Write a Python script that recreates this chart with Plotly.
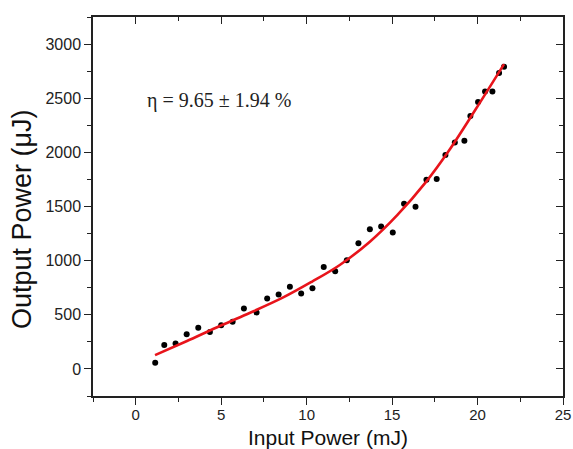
import plotly.graph_objects as go

# measured data (input power in mJ, output power in µJ)
input_mj = [1.14, 1.67, 2.33, 2.98, 3.66, 4.34, 5.0, 5.67, 6.33, 7.07, 7.69, 8.36,
            9.02, 9.68, 10.34, 11.0, 11.67, 12.35, 13.03, 13.70, 14.36, 15.04,
            15.70, 16.37, 17.01, 17.61, 18.12, 18.67, 19.23, 19.58, 20.03, 20.44,
            20.87, 21.26, 21.55]
output_uj = [56, 222, 234, 321, 380, 342, 404, 435, 558, 521, 651, 688,
             759, 697, 744, 942, 901, 1003, 1160, 1290, 1315, 1259,
             1525, 1497, 1747, 1753, 1975, 2090, 2108, 2336, 2466, 2562,
             2562, 2734, 2790]

# fitted curve
fit_x = [1.13, 3.0, 4.73, 6.5, 8.63, 10.3, 11.94, 13.7, 15.3, 17.0, 18.3, 19.9, 21.55]
fit_y = [127, 258, 383, 505, 660, 805, 960, 1175, 1420, 1730, 2010, 2400, 2815]

x_ticks = [0, 5, 10, 15, 20, 25]
y_ticks = [0, 500, 1000, 1500, 2000, 2500, 3000]
x_range = [-2.5, 25]
y_range = [-250, 3250]

x_title = "Input Power (mJ)"
y_title = "Output Power (μJ)"
annotation_text = "η = 9.65 ± 1.94 %"

fig = go.Figure()
fig.add_trace(go.Scatter(x=input_mj, y=output_uj, mode="markers",
                         marker=dict(color="black", size=6), showlegend=False))
fig.add_trace(go.Scatter(x=fit_x, y=fit_y, mode="lines", line_shape="spline",
                         line=dict(color="#e8141b", width=2.6), showlegend=False))
# invisible trace for the mirrored axes
fig.add_trace(go.Scatter(x=[None], y=[None], xaxis="x2", yaxis="y2", showlegend=False))

xtick_font = dict(family="Liberation Sans, Arial, sans-serif", size=15, color="#222")
ytick_font = dict(family="Liberation Sans, Arial, sans-serif", size=16, color="#222")
xtitle_font = dict(family="Liberation Sans, Arial, sans-serif", size=21, color="#111")
ytitle_font = dict(family="Liberation Sans, Arial, sans-serif", size=27, color="#111")

fig.update_layout(
    width=573, height=449,
    margin=dict(l=93, r=10, t=17, b=53),
    paper_bgcolor="white", plot_bgcolor="white",
    xaxis=dict(range=x_range, tickvals=x_ticks, ticks="outside", ticklen=7, tickwidth=1.3,
               tickcolor="#222", showline=True, linecolor="#222", linewidth=1.5,
               showgrid=False, zeroline=False, tickfont=xtick_font, automargin=False,
               ticklabelstandoff=-3,
               minor=dict(dtick=2.5, tick0=0, ticks="outside", ticklen=4, tickcolor="#222", showgrid=False)),
    yaxis=dict(range=y_range, tickvals=y_ticks, ticks="outside", ticklen=7, tickwidth=1.3,
               tickcolor="#222", showline=True, linecolor="#222", linewidth=1.5,
               showgrid=False, zeroline=False, tickfont=ytick_font, automargin=False,
               minor=dict(dtick=250, tick0=0, ticks="outside", ticklen=4, tickcolor="#222", showgrid=False)),
    xaxis2=dict(range=x_range, overlaying="x", side="top", tickvals=x_ticks, ticks="inside",
                ticklen=7, tickwidth=1.3, tickcolor="#222", showticklabels=False, automargin=False,
                showline=True, linecolor="#222", linewidth=1.5, showgrid=False, zeroline=False,
                minor=dict(dtick=2.5, tick0=0, ticks="inside", ticklen=4, tickcolor="#222", showgrid=False)),
    yaxis2=dict(range=y_range, overlaying="y", side="right", tickvals=y_ticks, ticks="inside",
                ticklen=7, tickwidth=1.3, tickcolor="#222", showticklabels=False, automargin=False,
                showline=True, linecolor="#222", linewidth=1.5, showgrid=False, zeroline=False,
                minor=dict(dtick=250, tick0=0, ticks="inside", ticklen=4, tickcolor="#222", showgrid=False)),
    annotations=[
        dict(text=annotation_text, x=0.55, y=2480, xref="x", yref="y",
             xanchor="left", yanchor="middle", showarrow=False,
             font=dict(family="Liberation Serif, Times New Roman, serif", size=20, color="#222")),
        dict(text=x_title, x=0.5, y=-0.11, xref="paper", yref="paper", borderpad=0,
             xanchor="center", yanchor="middle", showarrow=False, font=xtitle_font),
        dict(text=y_title, x=-0.151, y=0.467, xref="paper", yref="paper", textangle=-90,
             xanchor="center", yanchor="middle", showarrow=False, font=ytitle_font),
    ],
)

fig.write_html("out.html")
